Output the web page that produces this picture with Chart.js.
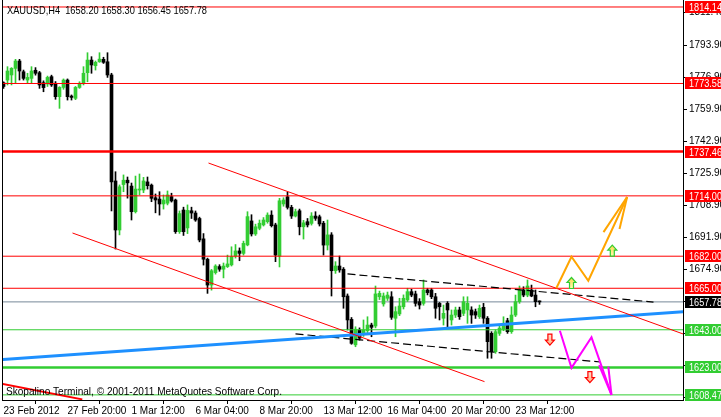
<!DOCTYPE html>
<html><head><meta charset="utf-8">
<script src="https://cdn.jsdelivr.net/npm/chart.js@4/dist/chart.umd.min.js"></script>
<style>html,body{margin:0;padding:0;background:#fff;overflow:hidden}canvas{display:block}</style>
</head><body>
<canvas id="c" width="721" height="417"></canvas>
<script>
// ---------------- DATA ----------------
const headerText = "XAUUSD,H4  1658.20 1658.30 1656.45 1657.78";
const copyrightText = "Skopalino Terminal, \u00A9 2001-2011 MetaQuotes Software Corp.";
const timeLabels = ["23 Feb 2012","27 Feb 20:00","1 Mar 12:00","6 Mar 04:00","8 Mar 20:00","13 Mar 12:00","16 Mar 04:00","20 Mar 20:00","23 Mar 12:00"];
const timeLabelBars = [0,16,32,48,64,80,96,112,128];
const priceTicks = [1811.40,1793.90,1776.90,1759.90,1742.90,1725.90,1708.90,1691.90,1674.90,1657.90,1640.90,1623.90,1606.90];

const opens = [1774.0,1775.4,1778.1,1781.6,1785.5,1779.8,1775.4,1776.3,1780.6,1779.3,1774.0,1773.3,1777.2,1773.7,1766.6,1771.5,1775.4,1766.9,1765.7,1771.5,1773.7,1779.3,1786.0,1783.0,1785.1,1786.4,1785.1,1778.1,1721.9,1695.9,1720.0,1722.3,1719.2,1705.6,1717.1,1717.1,1721.4,1719.7,1713.0,1712.3,1709.7,1710.1,1713.6,1711.8,1695.0,1706.5,1697.0,1706.1,1704.9,1702.0,1691.2,1680.4,1666.7,1673.3,1676.5,1675.1,1676.5,1677.4,1682.1,1684.8,1683.5,1688.0,1700.7,1693.8,1696.8,1698.6,1700.3,1703.8,1698.6,1682.1,1709.7,1713.5,1707.9,1703.3,1706.1,1697.6,1700.3,1699.4,1703.3,1702.9,1699.5,1687.9,1693.3,1674.3,1676.8,1675.1,1660.9,1648.5,1635.0,1642.9,1640.8,1642.5,1645.5,1645.0,1660.5,1656.7,1659.7,1660.5,1649.1,1651.4,1655.2,1658.8,1663.2,1662.0,1657.9,1657.0,1664.1,1664.1,1660.5,1657.0,1649.1,1657.0,1648.2,1650.8,1653.5,1651.7,1653.5,1653.5,1652.6,1649.9,1654.9,1649.1,1641.1,1631.4,1641.1,1643.3,1647.8,1642.0,1650.8,1657.9,1664.1,1661.4,1664.1,1661.4,1658.2];
const highs = [1774.5,1782.5,1782.0,1786.4,1786.4,1780.7,1779.0,1782.5,1782.0,1780.0,1775.0,1777.5,1778.0,1774.6,1771.9,1776.0,1776.0,1767.5,1772.0,1774.5,1782.5,1789.9,1787.8,1785.5,1789.9,1787.5,1789.9,1779.0,1726.8,1719.8,1725.1,1724.0,1720.8,1724.5,1725.6,1723.8,1724.0,1720.3,1715.0,1716.2,1714.5,1716.6,1715.4,1712.3,1706.0,1708.0,1709.2,1708.0,1706.0,1702.7,1694.0,1681.0,1675.0,1677.5,1677.5,1678.4,1682.6,1687.0,1688.2,1686.4,1690.0,1705.6,1704.0,1699.0,1701.2,1702.5,1705.0,1706.1,1699.5,1712.7,1713.0,1715.9,1709.0,1707.0,1707.0,1701.0,1702.0,1705.1,1705.6,1703.8,1700.5,1701.2,1694.5,1679.1,1682.1,1676.0,1662.0,1649.5,1644.6,1644.0,1648.2,1649.9,1646.5,1666.2,1663.5,1662.5,1663.0,1663.2,1655.2,1659.7,1661.5,1665.0,1664.5,1663.5,1659.5,1669.4,1665.0,1665.0,1662.3,1657.5,1656.1,1657.9,1653.5,1655.0,1655.0,1660.5,1660.5,1655.2,1654.0,1656.1,1657.0,1650.0,1642.0,1643.0,1645.0,1649.9,1649.1,1655.2,1661.4,1666.2,1665.8,1669.4,1666.7,1664.1,1658.3];
const lows = [1771.0,1772.8,1772.8,1773.7,1775.4,1775.4,1774.0,1773.7,1778.0,1771.0,1769.2,1772.0,1772.0,1765.2,1760.4,1770.5,1764.8,1764.8,1765.0,1771.0,1772.8,1774.5,1779.0,1780.7,1784.8,1784.2,1776.8,1706.0,1685.8,1693.3,1716.2,1712.8,1701.2,1704.9,1714.5,1715.7,1717.6,1710.9,1705.0,1703.8,1707.0,1709.2,1710.7,1694.1,1694.1,1693.0,1694.0,1702.0,1700.5,1689.6,1677.3,1662.3,1664.0,1672.5,1674.0,1670.5,1676.0,1676.8,1681.0,1679.6,1682.6,1687.5,1692.7,1693.0,1696.0,1698.0,1699.5,1697.5,1679.1,1676.3,1708.5,1707.0,1702.0,1702.8,1693.3,1691.1,1697.5,1698.5,1701.0,1698.0,1682.6,1685.3,1660.9,1672.9,1673.5,1654.4,1642.9,1635.3,1634.0,1637.5,1639.5,1641.5,1639.3,1644.0,1659.0,1655.5,1658.5,1648.5,1639.3,1650.5,1654.0,1658.0,1660.5,1655.5,1654.0,1656.0,1661.5,1659.5,1649.1,1648.2,1645.5,1644.6,1645.5,1649.5,1648.5,1650.5,1646.4,1646.4,1649.0,1649.0,1646.4,1627.9,1627.9,1630.5,1640.0,1642.5,1641.1,1641.1,1650.0,1657.0,1660.5,1660.5,1660.5,1655.2,1656.45];
const closes = [1772.0,1780.2,1781.6,1785.5,1780.2,1776.3,1776.8,1780.2,1779.0,1772.8,1771.4,1776.8,1772.8,1766.6,1771.5,1775.4,1766.6,1766.2,1771.5,1773.7,1779.0,1786.0,1783.4,1784.8,1786.5,1784.8,1778.1,1721.4,1695.9,1718.8,1722.3,1720.9,1705.6,1717.6,1717.6,1721.9,1719.4,1712.7,1711.8,1709.7,1711.8,1714.5,1711.3,1695.0,1704.6,1695.0,1706.3,1704.9,1701.2,1690.6,1680.4,1666.7,1674.3,1676.8,1675.1,1676.8,1677.9,1681.7,1684.8,1683.5,1688.8,1703.0,1693.8,1697.6,1699.5,1701.2,1703.8,1698.2,1682.6,1711.4,1711.8,1707.9,1703.3,1705.6,1697.6,1699.7,1698.6,1703.3,1702.1,1699.1,1687.9,1693.3,1674.3,1676.8,1674.7,1660.5,1648.2,1635.8,1643.3,1638.5,1642.9,1645.5,1644.3,1662.0,1662.3,1660.9,1661.4,1649.6,1652.6,1655.6,1659.7,1663.2,1661.4,1657.0,1656.1,1664.1,1662.7,1660.5,1654.4,1655.2,1651.7,1653.5,1650.8,1653.5,1649.9,1657.9,1657.0,1650.8,1650.8,1654.4,1649.1,1636.7,1631.4,1642.0,1643.9,1646.1,1642.0,1650.8,1657.9,1664.1,1661.4,1666.2,1660.9,1657.9,1657.78];

const resistanceLevels = [1814.14, 1773.58, 1737.46, 1714.00, 1682.00, 1665.00];
const supportLevels = [1643.00, 1623.00, 1608.47];
const currentPrice = 1657.78;

// trend objects: [bar index, price] endpoints
const channelUpper = [[51.25,1731.4],[170,1640.7]];
const channelLower = [[17.25,1694.3],[120.25,1615.5]];
const oldTrend = [[-1,1614.6],[19.7,1606.1]];
const blueTrend = [[-1,1627.1],[171,1652.7]];
const dashUpper = [[86,1672.6],[162.5,1657.7]];
const dashLower = [[73,1640.8],[149.25,1625.9]];
const bullPath = [[138.2,1665.0],[142,1681.7],[146.2,1669.0],[155.9,1713.4]];
const bullHead = [[[155.9,1713.4],[150,1694.8]],[[155.9,1713.4],[154,1696.4]]];
const bearPath = [[139.1,1642.5],[142,1622.8],[147,1639.0],[152,1608.5]];
const bearHead = [[[152,1608.5],[148.9,1624.2]],[[152,1608.5],[151.2,1623.5]]];
const upArrows = [[142,1667.8],[152.2,1685.0]];
const downArrows = [[136.6,1637.8],[146.6,1617.9]];

// ---------------- CHART ----------------
const GREEN = '#32CD32', RED = '#FF0000';
const FONT = "'Liberation Sans', Arial, sans-serif";
Chart.defaults.font.family = FONT;
Chart.defaults.font.size = 10;
Chart.defaults.color = '#000';

const idx = opens.map((_, i) => i);
const candleColor = idx.map(i => closes[i] >= opens[i] ? GREEN : '#000000');
const pts = arr => arr.map(p => ({x: p[0], y: p[1]}));
const lineDs = (data, color, width, extra) => Object.assign({
  type: 'line', data: pts(data), borderColor: color, borderWidth: width,
  pointRadius: 0, fill: false, tension: 0, order: 1
}, extra || {});
const hLine = (p, color, width, order) => lineDs([[-2, p], [172, p]], color, width, {order: order || 2});

const datasets = [];
datasets.push(hLine(currentPrice, '#778899', 1, 30));
datasets.push({
  type: 'bar', data: idx.map(i => ({x: i, y: [lows[i], highs[i]]})),
  backgroundColor: candleColor, barThickness: 1, grouped: false, order: 20, borderWidth: 0
});
datasets.push({
  type: 'bar', data: idx.map(i => ({x: i, y: [opens[i], closes[i]]})),
  backgroundColor: candleColor, barThickness: 3, grouped: false, order: 19, borderWidth: 0, minBarLength: 1
});
resistanceLevels.forEach(p => datasets.push(hLine(p, RED, p === 1737.46 ? 2.5 : 1)));
supportLevels.forEach(p => datasets.push(hLine(p, GREEN, p === 1623.00 ? 2.5 : 1)));
datasets.push(lineDs(channelUpper, RED, 1));
datasets.push(lineDs(channelLower, RED, 1));
datasets.push(lineDs(oldTrend, RED, 2));
datasets.push(lineDs(blueTrend, '#1E90FF', 3));
datasets.push(lineDs(dashUpper, '#000', 1.2, {borderDash: [8, 4]}));
datasets.push(lineDs(dashLower, '#000', 1.2, {borderDash: [8, 4]}));
datasets.push(lineDs(bullPath, '#FFA500', 2, {order: 0}));
bullHead.forEach(s => datasets.push(lineDs(s, '#FFA500', 2, {order: 0})));
datasets.push(lineDs(bearPath, '#FF00FF', 2, {order: 0}));
bearHead.forEach(s => datasets.push(lineDs(s, '#FF00FF', 2, {order: 0})));

function drawArrow(ctx, cx, cy, up, stroke, fillTop, fillBot) {
  const h = 11, hw = 4.5, head = 5, sw = 2;
  const s = up ? 1 : -1;
  const tip = cy - s * h / 2;
  ctx.beginPath();
  ctx.moveTo(cx, tip);
  ctx.lineTo(cx + hw, tip + s * head);
  ctx.lineTo(cx + sw, tip + s * head);
  ctx.lineTo(cx + sw, tip + s * h);
  ctx.lineTo(cx - sw, tip + s * h);
  ctx.lineTo(cx - sw, tip + s * head);
  ctx.lineTo(cx - hw, tip + s * head);
  ctx.closePath();
  const g = ctx.createLinearGradient(0, tip, 0, tip + s * h);
  g.addColorStop(0, fillTop); g.addColorStop(1, fillBot);
  ctx.fillStyle = g; ctx.fill();
  ctx.lineWidth = 1.2; ctx.strokeStyle = stroke; ctx.stroke();
}

// draw text squeezed horizontally to a target width (MT4 uses a narrow UI font)
function fitText(ctx, text, x, y, font, width) {
  ctx.font = font;
  const w = ctx.measureText(text).width;
  const k = Math.min(1, width / w);
  ctx.save();
  ctx.translate(x, y);
  ctx.scale(k, 1);
  ctx.fillText(text, 0, 0);
  ctx.restore();
}

const overlay = {
  id: 'overlay',
  afterDatasetsDraw(chart) {
    const {ctx, chartArea: a, scales: {x, y}} = chart;
    ctx.save();
    ctx.beginPath(); ctx.rect(a.left, a.top, a.right - a.left, a.bottom - a.top); ctx.clip();
    upArrows.forEach(p => drawArrow(ctx, x.getPixelForValue(p[0]), y.getPixelForValue(p[1]), true, GREEN, '#FFD24A', '#FFFFB0'));
    downArrows.forEach(p => drawArrow(ctx, x.getPixelForValue(p[0]), y.getPixelForValue(p[1]), false, RED, '#FFB080', '#FFE0D0'));
    ctx.fillStyle = '#000';
    ctx.textBaseline = 'alphabetic'; ctx.textAlign = 'left';
    fitText(ctx, headerText, a.left + 4, a.top + 14, "11px " + FONT, 200);
    fitText(ctx, copyrightText, a.left + 3, a.bottom - 5, "10.5px " + FONT, 276);
    ctx.restore();
  },
  afterDraw(chart) {
    const {ctx, chartArea: a, scales: {y}} = chart;
    ctx.save();
    ctx.fillStyle = '#000';
    ctx.fillRect(a.left - 1, a.top, 1, a.bottom - a.top + 1);
    ctx.textBaseline = 'middle'; ctx.textAlign = 'left';
    const box = (p, bg) => {
      const py = Math.round(y.getPixelForValue(p));
      ctx.fillStyle = bg;
      ctx.fillRect(a.right + 2, py - 6, chart.width - a.right - 2, 12);
      ctx.fillStyle = '#fff';
      fitText(ctx, p.toFixed(2), a.right + 6, py + 0.5, "11px " + FONT, 33);
    };
    resistanceLevels.forEach(p => box(p, RED));
    supportLevels.forEach(p => box(p, GREEN));
    box(currentPrice, '#000');
    ctx.restore();
  }
};

const noPad = s => { s.paddingTop = 0; s.paddingBottom = 0; s.paddingLeft = 0; s.paddingRight = 0; };

new Chart(document.getElementById('c'), {
  type: 'bar',
  data: {datasets},
  options: {
    responsive: false, animation: false, devicePixelRatio: 1, events: [],
    layout: {padding: {left: 3, top: 0, right: 0, bottom: 0}},
    plugins: {legend: {display: false}, tooltip: {enabled: false}},
    scales: {
      x: {
        type: 'linear', min: -0.125, max: 169.875, offset: false,
        grid: {display: true, drawOnChartArea: false, drawTicks: true, tickLength: 4, color: '#000'},
        border: {display: true, color: '#000', width: 1},
        afterBuildTicks: s => { s.ticks = timeLabelBars.map(v => ({value: v})); },
        afterFit: s => { s.height = 17; noPad(s); },
        ticks: {
          autoSkip: false, maxRotation: 0, minRotation: 0, align: 'start', padding: 1,
          font: {size: 10},
          callback: v => { const k = timeLabelBars.indexOf(v); return k >= 0 ? timeLabels[k] : ''; }
        }
      },
      y: {
        type: 'linear', position: 'right', min: 1605.76, max: 1817.85,
        grid: {display: true, drawOnChartArea: false, drawTicks: true, tickLength: 4, color: '#000'},
        border: {display: true, color: '#000', width: 1},
        afterBuildTicks: s => { s.ticks = priceTicks.map(v => ({value: v})); },
        afterFit: s => { s.width = 38; noPad(s); },
        ticks: {padding: 2, font: {size: 10}, callback: v => Number(v).toFixed(2)}
      }
    }
  },
  plugins: [overlay]
});
</script>
</body></html>
